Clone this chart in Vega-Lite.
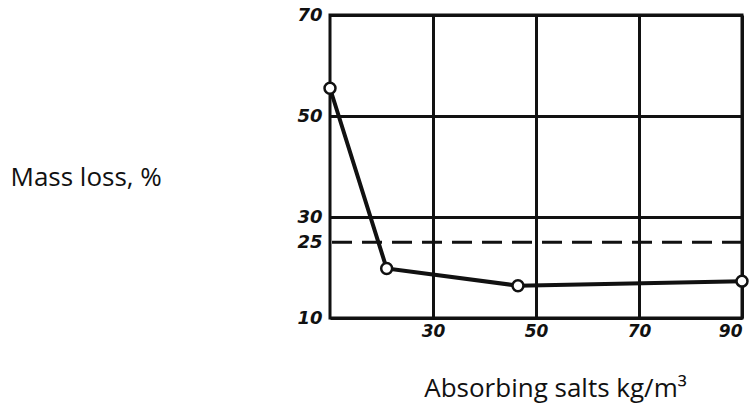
{
  "$schema": "https://vega.github.io/schema/vega-lite/v6.json",
  "width": 412,
  "height": 303,
  "autosize": "none",
  "padding": {"left": 330, "top": 15, "right": 8, "bottom": 92},
  "background": "white",
  "config": {
    "view": {"stroke": "#111", "strokeWidth": 3},
    "axis": {"labelFont": "DejaVu Sans", "titleFont": "Open Sans"}
  },
  "datasets": {
    "points": [
      {"salts": 10, "loss": 55.5},
      {"salts": 21, "loss": 19.8},
      {"salts": 46.5, "loss": 16.4},
      {"salts": 90, "loss": 17.3}
    ],
    "threshold": [{"loss": 25}]
  },
  "layer": [
    {
      "data": {"name": "threshold"},
      "mark": {"type": "rule", "stroke": "#111", "strokeWidth": 3, "strokeDash": [20, 10]},
      "encoding": {"y": {"field": "loss", "type": "quantitative", "scale": {"domain": [10, 70]}}}
    },
    {
      "data": {"name": "points"},
      "mark": {"type": "line", "stroke": "#111", "strokeWidth": 4},
      "encoding": {
        "x": {
          "field": "salts", "type": "quantitative",
          "scale": {"domain": [10, 90], "nice": false, "zero": false},
          "axis": {
            "values": [30, 50, 70, 90],
            "grid": true, "gridColor": "#111", "gridWidth": 3, "gridOpacity": 1,
            "domain": false, "ticks": false,
            "labelFontSize": 17, "labelFontStyle": "italic", "labelFontWeight": "bold", "labelColor": "#111",
            "labelPadding": 5, "labelFlush": true, "labelFlushOffset": 0,
            "title": "Absorbing salts kg/m³", "titleFontSize": 26, "titleFontWeight": "normal", "titleColor": "#111",
            "titleX": 225, "titleY": 70, "titleBaseline": "middle", "titleAlign": "center"
          }
        },
        "y": {
          "field": "loss", "type": "quantitative",
          "scale": {"domain": [10, 70], "nice": false, "zero": false},
          "axis": {
            "values": [10, 25, 30, 50, 70],
            "grid": true, "gridColor": "#111", "gridWidth": 3,
            "gridOpacity": {"condition": {"test": "datum.value == 25", "value": 0}, "value": 1},
            "domain": false, "ticks": false,
            "labelFontSize": 18, "labelFontStyle": "italic", "labelFontWeight": "bold", "labelColor": "#111",
            "labelPadding": 8,
            "title": "Mass loss, %", "titleAngle": 0, "titleFontSize": 26, "titleFontWeight": "normal", "titleColor": "#111",
            "titleX": -320, "titleY": 162, "titleAlign": "left", "titleBaseline": "middle"
          }
        }
      }
    },
    {
      "data": {"name": "points"},
      "mark": {"type": "point", "shape": "circle", "filled": true, "fill": "white", "stroke": "#111", "strokeWidth": 2.5, "size": 120, "opacity": 1},
      "encoding": {
        "x": {"field": "salts", "type": "quantitative"},
        "y": {"field": "loss", "type": "quantitative"}
      }
    }
  ]
}
